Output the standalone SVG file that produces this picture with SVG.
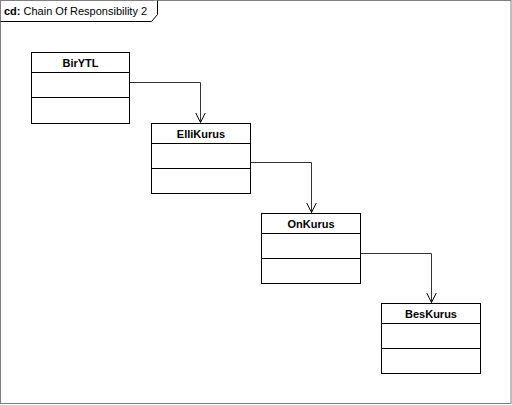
<svg xmlns="http://www.w3.org/2000/svg" width="512" height="405" viewBox="0 0 512 405">
<style>
.box{fill:#fff;stroke:#000;stroke-width:1}
.div{stroke:#000;stroke-width:1}
.name{font-family:"Liberation Sans",Arial,sans-serif;font-size:11px;font-weight:bold;text-anchor:middle;fill:#000}
.conn{fill:none;stroke:#333;stroke-width:1}
.frame{fill:none;stroke:#808080;stroke-width:1}
.title{font-family:"Liberation Sans",Arial,sans-serif;font-size:11px;fill:#000}
</style>
<defs>
<marker id="open" markerWidth="12" markerHeight="12" refX="10" refY="6" orient="auto" markerUnits="userSpaceOnUse">
<path d="M0,1 L10,6 L0,11" fill="none" stroke="#000" stroke-width="1"/>
</marker>
</defs>
<rect width="512" height="405" fill="#fff"/>
<g id="frame">
<rect class="frame" x="0.5" y="0.5" width="510.5" height="403"/>
<path d="M0.5,21.5 L151.5,21.5 L157.5,14.5 L157.5,0.5" fill="#fff" stroke="#000" stroke-width="1"/>
<text class="title" x="4" y="15"><tspan font-weight="bold">cd:</tspan> Chain Of Responsibility 2</text>
</g>
<g id="connectors">
<path class="conn" d="M129.5,82.5 H200.5 V122.5" marker-end="url(#open)"/>
<path class="conn" d="M250.5,162.5 H311.5 V212.5" marker-end="url(#open)"/>
<path class="conn" d="M360.5,253.5 H431.5 V302.5" marker-end="url(#open)"/>
</g>
<g id="BirYTL">
<rect class="box" x="31.5" y="52.5" width="98" height="71"/>
<line class="div" x1="31.5" y1="72.5" x2="129.5" y2="72.5"/>
<line class="div" x1="31.5" y1="97.5" x2="129.5" y2="97.5"/>
<text class="name" x="80.5" y="67">BirYTL</text>
</g>
<g id="ElliKurus">
<rect class="box" x="151.5" y="123.5" width="99" height="70"/>
<line class="div" x1="151.5" y1="143.5" x2="250.5" y2="143.5"/>
<line class="div" x1="151.5" y1="168.5" x2="250.5" y2="168.5"/>
<text class="name" x="201" y="138">ElliKurus</text>
</g>
<g id="OnKurus">
<rect class="box" x="261.5" y="213.5" width="99" height="70"/>
<line class="div" x1="261.5" y1="233.5" x2="360.5" y2="233.5"/>
<line class="div" x1="261.5" y1="258.5" x2="360.5" y2="258.5"/>
<text class="name" x="311" y="228">OnKurus</text>
</g>
<g id="BesKurus">
<rect class="box" x="381.5" y="303.5" width="99" height="70"/>
<line class="div" x1="381.5" y1="323.5" x2="480.5" y2="323.5"/>
<line class="div" x1="381.5" y1="348.5" x2="480.5" y2="348.5"/>
<text class="name" x="431" y="318">BesKurus</text>
</g>
</svg>
